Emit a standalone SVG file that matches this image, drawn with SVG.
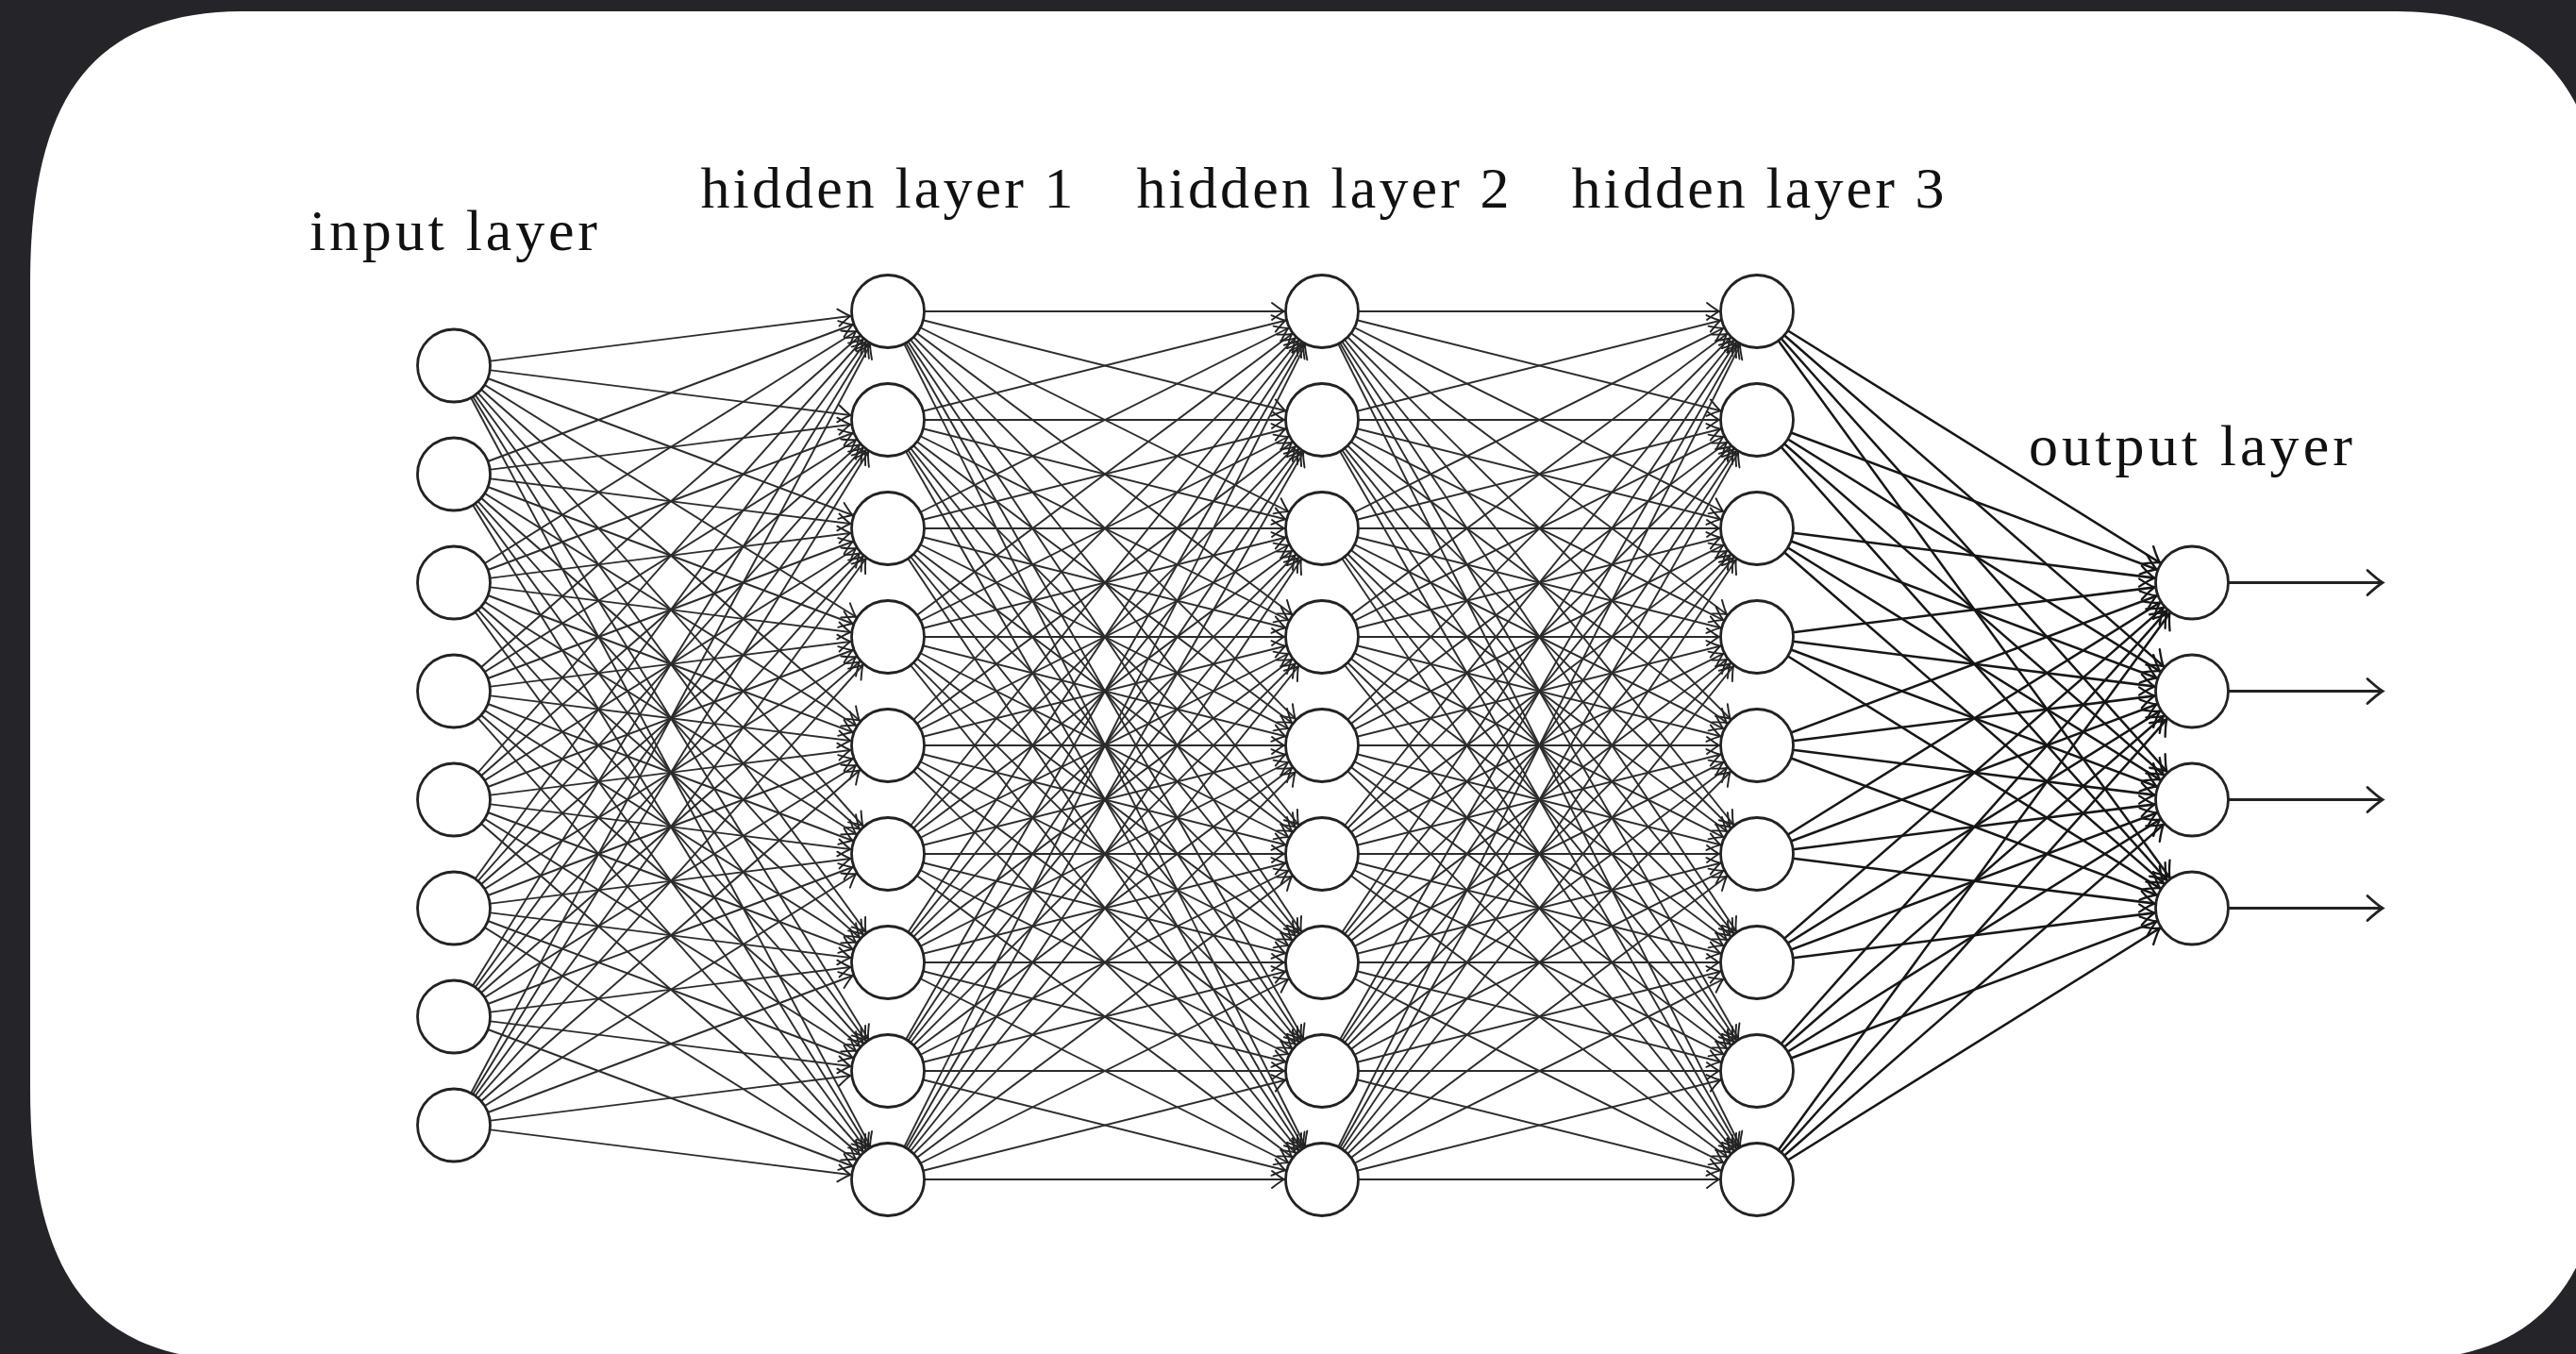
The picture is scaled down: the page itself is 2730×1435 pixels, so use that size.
<svg xmlns="http://www.w3.org/2000/svg" width="2730" height="1435" viewBox="0 0 2730 1435">
<defs>
<style>
.bg{fill:#252529}
.panel{fill:#ffffff}
.node circle{fill:#ffffff;stroke:#222222;stroke-width:2.8}
.lbl{font-family:"Liberation Serif","DejaVu Serif",serif;font-size:62px;fill:#111111;text-anchor:middle}
.e path{fill:none;stroke:#2c2c2c;stroke-width:1.9;marker-end:url(#ah)}
.e4 path{fill:none;stroke:#161616;stroke-width:2.5;marker-end:url(#ah2)}
.out path{fill:none;stroke:#222222;stroke-width:2.8;marker-end:url(#ah3)}
</style>
<marker id="ah" markerUnits="userSpaceOnUse" orient="auto" overflow="visible" markerWidth="1" markerHeight="1" refX="0" refY="0">
<path d="M-53 -9 Q-44 -2 -40 0 Q-44 2 -53 9" fill="none" stroke="#222222" stroke-width="1.9" stroke-linecap="round"/>
</marker>
<marker id="ah2" markerUnits="userSpaceOnUse" orient="auto" overflow="visible" markerWidth="1" markerHeight="1" refX="0" refY="0">
<path d="M-55 -11 Q-45 -2.4 -40 0 Q-45 2.4 -55 11" fill="none" stroke="#161616" stroke-width="2.3" stroke-linecap="round"/>
</marker>
<marker id="ah3" markerUnits="userSpaceOnUse" orient="auto" overflow="visible" markerWidth="1" markerHeight="1" refX="0" refY="0">
<path d="M-16 -13 Q-5 -3 0 0 Q-5 3 -16 13" fill="none" stroke="#222222" stroke-width="2.8" stroke-linecap="round"/>
</marker>
</defs>
<rect class="bg" x="0" y="0" width="2730" height="1435"/>
<path class="panel" d="M260 12 L2537 12 C2697 12 2765 100 2765 300 L2765 1154 C2765 1354 2697 1442 2537 1442 L260 1442 C100 1442 32 1354 32 1154 L32 300 C32 100 100 12 260 12 Z"/>

<g id="connectors">
<g class="e">
<path d="M481 387.5L941 330"/><path d="M481 387.5L941 445"/><path d="M481 387.5L941 560"/><path d="M481 387.5L941 675"/><path d="M481 387.5L941 790"/><path d="M481 387.5L941 905"/><path d="M481 387.5L941 1020"/><path d="M481 387.5L941 1135"/><path d="M481 387.5L941 1250"/>
<path d="M481 502.5L941 330"/><path d="M481 502.5L941 445"/><path d="M481 502.5L941 560"/><path d="M481 502.5L941 675"/><path d="M481 502.5L941 790"/><path d="M481 502.5L941 905"/><path d="M481 502.5L941 1020"/><path d="M481 502.5L941 1135"/><path d="M481 502.5L941 1250"/>
<path d="M481 617.5L941 330"/><path d="M481 617.5L941 445"/><path d="M481 617.5L941 560"/><path d="M481 617.5L941 675"/><path d="M481 617.5L941 790"/><path d="M481 617.5L941 905"/><path d="M481 617.5L941 1020"/><path d="M481 617.5L941 1135"/><path d="M481 617.5L941 1250"/>
<path d="M481 732.5L941 330"/><path d="M481 732.5L941 445"/><path d="M481 732.5L941 560"/><path d="M481 732.5L941 675"/><path d="M481 732.5L941 790"/><path d="M481 732.5L941 905"/><path d="M481 732.5L941 1020"/><path d="M481 732.5L941 1135"/><path d="M481 732.5L941 1250"/>
<path d="M481 847.5L941 330"/><path d="M481 847.5L941 445"/><path d="M481 847.5L941 560"/><path d="M481 847.5L941 675"/><path d="M481 847.5L941 790"/><path d="M481 847.5L941 905"/><path d="M481 847.5L941 1020"/><path d="M481 847.5L941 1135"/><path d="M481 847.5L941 1250"/>
<path d="M481 962.5L941 330"/><path d="M481 962.5L941 445"/><path d="M481 962.5L941 560"/><path d="M481 962.5L941 675"/><path d="M481 962.5L941 790"/><path d="M481 962.5L941 905"/><path d="M481 962.5L941 1020"/><path d="M481 962.5L941 1135"/><path d="M481 962.5L941 1250"/>
<path d="M481 1077.5L941 330"/><path d="M481 1077.5L941 445"/><path d="M481 1077.5L941 560"/><path d="M481 1077.5L941 675"/><path d="M481 1077.5L941 790"/><path d="M481 1077.5L941 905"/><path d="M481 1077.5L941 1020"/><path d="M481 1077.5L941 1135"/><path d="M481 1077.5L941 1250"/>
<path d="M481 1192.5L941 330"/><path d="M481 1192.5L941 445"/><path d="M481 1192.5L941 560"/><path d="M481 1192.5L941 675"/><path d="M481 1192.5L941 790"/><path d="M481 1192.5L941 905"/><path d="M481 1192.5L941 1020"/><path d="M481 1192.5L941 1135"/><path d="M481 1192.5L941 1250"/>
</g>
<g class="e">
<path d="M941 330L1401 330"/><path d="M941 330L1401 445"/><path d="M941 330L1401 560"/><path d="M941 330L1401 675"/><path d="M941 330L1401 790"/><path d="M941 330L1401 905"/><path d="M941 330L1401 1020"/><path d="M941 330L1401 1135"/><path d="M941 330L1401 1250"/>
<path d="M941 445L1401 330"/><path d="M941 445L1401 445"/><path d="M941 445L1401 560"/><path d="M941 445L1401 675"/><path d="M941 445L1401 790"/><path d="M941 445L1401 905"/><path d="M941 445L1401 1020"/><path d="M941 445L1401 1135"/><path d="M941 445L1401 1250"/>
<path d="M941 560L1401 330"/><path d="M941 560L1401 445"/><path d="M941 560L1401 560"/><path d="M941 560L1401 675"/><path d="M941 560L1401 790"/><path d="M941 560L1401 905"/><path d="M941 560L1401 1020"/><path d="M941 560L1401 1135"/><path d="M941 560L1401 1250"/>
<path d="M941 675L1401 330"/><path d="M941 675L1401 445"/><path d="M941 675L1401 560"/><path d="M941 675L1401 675"/><path d="M941 675L1401 790"/><path d="M941 675L1401 905"/><path d="M941 675L1401 1020"/><path d="M941 675L1401 1135"/><path d="M941 675L1401 1250"/>
<path d="M941 790L1401 330"/><path d="M941 790L1401 445"/><path d="M941 790L1401 560"/><path d="M941 790L1401 675"/><path d="M941 790L1401 790"/><path d="M941 790L1401 905"/><path d="M941 790L1401 1020"/><path d="M941 790L1401 1135"/><path d="M941 790L1401 1250"/>
<path d="M941 905L1401 330"/><path d="M941 905L1401 445"/><path d="M941 905L1401 560"/><path d="M941 905L1401 675"/><path d="M941 905L1401 790"/><path d="M941 905L1401 905"/><path d="M941 905L1401 1020"/><path d="M941 905L1401 1135"/><path d="M941 905L1401 1250"/>
<path d="M941 1020L1401 330"/><path d="M941 1020L1401 445"/><path d="M941 1020L1401 560"/><path d="M941 1020L1401 675"/><path d="M941 1020L1401 790"/><path d="M941 1020L1401 905"/><path d="M941 1020L1401 1020"/><path d="M941 1020L1401 1135"/><path d="M941 1020L1401 1250"/>
<path d="M941 1135L1401 330"/><path d="M941 1135L1401 445"/><path d="M941 1135L1401 560"/><path d="M941 1135L1401 675"/><path d="M941 1135L1401 790"/><path d="M941 1135L1401 905"/><path d="M941 1135L1401 1020"/><path d="M941 1135L1401 1135"/><path d="M941 1135L1401 1250"/>
<path d="M941 1250L1401 330"/><path d="M941 1250L1401 445"/><path d="M941 1250L1401 560"/><path d="M941 1250L1401 675"/><path d="M941 1250L1401 790"/><path d="M941 1250L1401 905"/><path d="M941 1250L1401 1020"/><path d="M941 1250L1401 1135"/><path d="M941 1250L1401 1250"/>
</g>
<g class="e">
<path d="M1401 330L1862 330"/><path d="M1401 330L1862 445"/><path d="M1401 330L1862 560"/><path d="M1401 330L1862 675"/><path d="M1401 330L1862 790"/><path d="M1401 330L1862 905"/><path d="M1401 330L1862 1020"/><path d="M1401 330L1862 1135"/><path d="M1401 330L1862 1250"/>
<path d="M1401 445L1862 330"/><path d="M1401 445L1862 445"/><path d="M1401 445L1862 560"/><path d="M1401 445L1862 675"/><path d="M1401 445L1862 790"/><path d="M1401 445L1862 905"/><path d="M1401 445L1862 1020"/><path d="M1401 445L1862 1135"/><path d="M1401 445L1862 1250"/>
<path d="M1401 560L1862 330"/><path d="M1401 560L1862 445"/><path d="M1401 560L1862 560"/><path d="M1401 560L1862 675"/><path d="M1401 560L1862 790"/><path d="M1401 560L1862 905"/><path d="M1401 560L1862 1020"/><path d="M1401 560L1862 1135"/><path d="M1401 560L1862 1250"/>
<path d="M1401 675L1862 330"/><path d="M1401 675L1862 445"/><path d="M1401 675L1862 560"/><path d="M1401 675L1862 675"/><path d="M1401 675L1862 790"/><path d="M1401 675L1862 905"/><path d="M1401 675L1862 1020"/><path d="M1401 675L1862 1135"/><path d="M1401 675L1862 1250"/>
<path d="M1401 790L1862 330"/><path d="M1401 790L1862 445"/><path d="M1401 790L1862 560"/><path d="M1401 790L1862 675"/><path d="M1401 790L1862 790"/><path d="M1401 790L1862 905"/><path d="M1401 790L1862 1020"/><path d="M1401 790L1862 1135"/><path d="M1401 790L1862 1250"/>
<path d="M1401 905L1862 330"/><path d="M1401 905L1862 445"/><path d="M1401 905L1862 560"/><path d="M1401 905L1862 675"/><path d="M1401 905L1862 790"/><path d="M1401 905L1862 905"/><path d="M1401 905L1862 1020"/><path d="M1401 905L1862 1135"/><path d="M1401 905L1862 1250"/>
<path d="M1401 1020L1862 330"/><path d="M1401 1020L1862 445"/><path d="M1401 1020L1862 560"/><path d="M1401 1020L1862 675"/><path d="M1401 1020L1862 790"/><path d="M1401 1020L1862 905"/><path d="M1401 1020L1862 1020"/><path d="M1401 1020L1862 1135"/><path d="M1401 1020L1862 1250"/>
<path d="M1401 1135L1862 330"/><path d="M1401 1135L1862 445"/><path d="M1401 1135L1862 560"/><path d="M1401 1135L1862 675"/><path d="M1401 1135L1862 790"/><path d="M1401 1135L1862 905"/><path d="M1401 1135L1862 1020"/><path d="M1401 1135L1862 1135"/><path d="M1401 1135L1862 1250"/>
<path d="M1401 1250L1862 330"/><path d="M1401 1250L1862 445"/><path d="M1401 1250L1862 560"/><path d="M1401 1250L1862 675"/><path d="M1401 1250L1862 790"/><path d="M1401 1250L1862 905"/><path d="M1401 1250L1862 1020"/><path d="M1401 1250L1862 1135"/><path d="M1401 1250L1862 1250"/>
</g>
<g class="e4">
<path d="M1862 330L2323 617.5"/><path d="M1862 330L2323 732.5"/><path d="M1862 330L2323 847.5"/><path d="M1862 330L2323 962.5"/>
<path d="M1862 445L2323 617.5"/><path d="M1862 445L2323 732.5"/><path d="M1862 445L2323 847.5"/><path d="M1862 445L2323 962.5"/>
<path d="M1862 560L2323 617.5"/><path d="M1862 560L2323 732.5"/><path d="M1862 560L2323 847.5"/><path d="M1862 560L2323 962.5"/>
<path d="M1862 675L2323 617.5"/><path d="M1862 675L2323 732.5"/><path d="M1862 675L2323 847.5"/><path d="M1862 675L2323 962.5"/>
<path d="M1862 790L2323 617.5"/><path d="M1862 790L2323 732.5"/><path d="M1862 790L2323 847.5"/><path d="M1862 790L2323 962.5"/>
<path d="M1862 905L2323 617.5"/><path d="M1862 905L2323 732.5"/><path d="M1862 905L2323 847.5"/><path d="M1862 905L2323 962.5"/>
<path d="M1862 1020L2323 617.5"/><path d="M1862 1020L2323 732.5"/><path d="M1862 1020L2323 847.5"/><path d="M1862 1020L2323 962.5"/>
<path d="M1862 1135L2323 617.5"/><path d="M1862 1135L2323 732.5"/><path d="M1862 1135L2323 847.5"/><path d="M1862 1135L2323 962.5"/>
<path d="M1862 1250L2323 617.5"/><path d="M1862 1250L2323 732.5"/><path d="M1862 1250L2323 847.5"/><path d="M1862 1250L2323 962.5"/>
</g>
<g class="out">
<path d="M2361.5 617.5L2525 617.5"/><path d="M2361.5 732.5L2525 732.5"/><path d="M2361.5 847.5L2525 847.5"/><path d="M2361.5 962.5L2525 962.5"/>
</g>
</g>

<g id="input-layer">
<g id="in1" class="node"><circle cx="481" cy="387.5" r="38.5"/></g>
<g id="in2" class="node"><circle cx="481" cy="502.5" r="38.5"/></g>
<g id="in3" class="node"><circle cx="481" cy="617.5" r="38.5"/></g>
<g id="in4" class="node"><circle cx="481" cy="732.5" r="38.5"/></g>
<g id="in5" class="node"><circle cx="481" cy="847.5" r="38.5"/></g>
<g id="in6" class="node"><circle cx="481" cy="962.5" r="38.5"/></g>
<g id="in7" class="node"><circle cx="481" cy="1077.5" r="38.5"/></g>
<g id="in8" class="node"><circle cx="481" cy="1192.5" r="38.5"/></g>
</g>
<g id="hidden-layer-1">
<g id="h1n1" class="node"><circle cx="941" cy="330" r="38.5"/></g>
<g id="h1n2" class="node"><circle cx="941" cy="445" r="38.5"/></g>
<g id="h1n3" class="node"><circle cx="941" cy="560" r="38.5"/></g>
<g id="h1n4" class="node"><circle cx="941" cy="675" r="38.5"/></g>
<g id="h1n5" class="node"><circle cx="941" cy="790" r="38.5"/></g>
<g id="h1n6" class="node"><circle cx="941" cy="905" r="38.5"/></g>
<g id="h1n7" class="node"><circle cx="941" cy="1020" r="38.5"/></g>
<g id="h1n8" class="node"><circle cx="941" cy="1135" r="38.5"/></g>
<g id="h1n9" class="node"><circle cx="941" cy="1250" r="38.5"/></g>
</g>
<g id="hidden-layer-2">
<g id="h2n1" class="node"><circle cx="1401" cy="330" r="38.5"/></g>
<g id="h2n2" class="node"><circle cx="1401" cy="445" r="38.5"/></g>
<g id="h2n3" class="node"><circle cx="1401" cy="560" r="38.5"/></g>
<g id="h2n4" class="node"><circle cx="1401" cy="675" r="38.5"/></g>
<g id="h2n5" class="node"><circle cx="1401" cy="790" r="38.5"/></g>
<g id="h2n6" class="node"><circle cx="1401" cy="905" r="38.5"/></g>
<g id="h2n7" class="node"><circle cx="1401" cy="1020" r="38.5"/></g>
<g id="h2n8" class="node"><circle cx="1401" cy="1135" r="38.5"/></g>
<g id="h2n9" class="node"><circle cx="1401" cy="1250" r="38.5"/></g>
</g>
<g id="hidden-layer-3">
<g id="h3n1" class="node"><circle cx="1862" cy="330" r="38.5"/></g>
<g id="h3n2" class="node"><circle cx="1862" cy="445" r="38.5"/></g>
<g id="h3n3" class="node"><circle cx="1862" cy="560" r="38.5"/></g>
<g id="h3n4" class="node"><circle cx="1862" cy="675" r="38.5"/></g>
<g id="h3n5" class="node"><circle cx="1862" cy="790" r="38.5"/></g>
<g id="h3n6" class="node"><circle cx="1862" cy="905" r="38.5"/></g>
<g id="h3n7" class="node"><circle cx="1862" cy="1020" r="38.5"/></g>
<g id="h3n8" class="node"><circle cx="1862" cy="1135" r="38.5"/></g>
<g id="h3n9" class="node"><circle cx="1862" cy="1250" r="38.5"/></g>
</g>
<g id="output-layer">
<g id="out1" class="node"><circle cx="2323" cy="617.5" r="38.5"/></g>
<g id="out2" class="node"><circle cx="2323" cy="732.5" r="38.5"/></g>
<g id="out3" class="node"><circle cx="2323" cy="847.5" r="38.5"/></g>
<g id="out4" class="node"><circle cx="2323" cy="962.5" r="38.5"/></g>
</g>

<g id="labels">
<text class="lbl" x="480.5" y="265" textLength="305" lengthAdjust="spacing">input layer</text>
<text class="lbl" x="940" y="220" textLength="395" lengthAdjust="spacing">hidden layer 1</text>
<text class="lbl" x="1402" y="220" textLength="395" lengthAdjust="spacing">hidden layer 2</text>
<text class="lbl" x="1863" y="220" textLength="395" lengthAdjust="spacing">hidden layer 3</text>
<text class="lbl" x="2321.5" y="493" textLength="343" lengthAdjust="spacing">output layer</text>
</g>
</svg>
